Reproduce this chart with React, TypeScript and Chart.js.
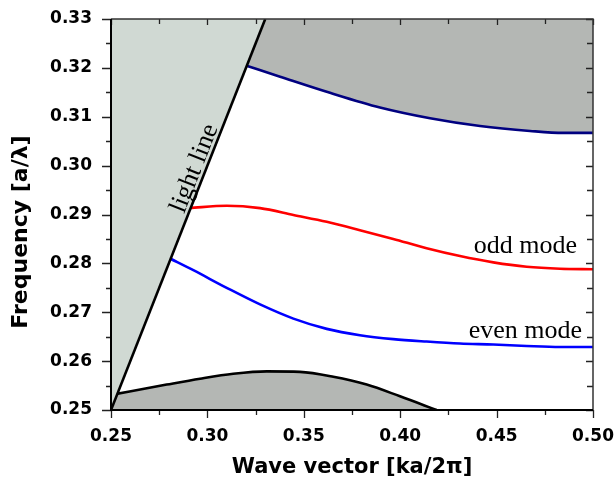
import React, { useEffect, useRef } from 'react';
import { Chart, registerables } from 'chart.js';

Chart.register(...registerables);

// Axis ranges and tick labels
const xTickLabels = ['0.25', '0.30', '0.35', '0.40', '0.45', '0.50'];
const yTickLabels = ['0.25', '0.26', '0.27', '0.28', '0.29', '0.30', '0.31', '0.32', '0.33'];
const xTitle = 'Wave vector [ka/2\u03c0]';
const yTitle = 'Frequency [a/\u03bb]';

// Light line (omega = k)
const lightK = [0.25, 0.33];
const lightF = [0.25, 0.33];

// Upper band edge (navy)
const upperK = [0.3207, 0.3377, 0.3636, 0.3895, 0.4155, 0.4414, 0.4673, 0.4846, 0.5];
const upperF = [0.3204, 0.3182, 0.3149, 0.3119, 0.3097, 0.3081, 0.3071, 0.3067, 0.3067];

// Odd mode (red)
const oddK = [0.2906, 0.31, 0.3273, 0.3446, 0.3619, 0.3791, 0.3964, 0.4137, 0.431, 0.4483, 0.4656, 0.4829, 0.5];
const oddF = [0.2913, 0.2918, 0.2913, 0.2899, 0.2885, 0.2868, 0.285, 0.2831, 0.2815, 0.2802, 0.2793, 0.2789, 0.2788];

// Even mode (blue)
const evenK = [0.2806, 0.2927, 0.31, 0.3273, 0.3446, 0.3619, 0.3791, 0.3964, 0.4137, 0.431, 0.4483, 0.4656, 0.4829, 0.5];
const evenF = [0.281, 0.2786, 0.275, 0.2716, 0.2687, 0.2666, 0.2653, 0.2645, 0.264, 0.2636, 0.2634, 0.2631, 0.2629, 0.2629];

// Lower band edge (black)
const lowerK = [0.25, 0.2789, 0.2962, 0.3134, 0.3308, 0.348, 0.3653, 0.3826, 0.3999, 0.4189];
const lowerF = [0.2531, 0.2552, 0.2564, 0.2574, 0.2579, 0.2578, 0.2568, 0.2552, 0.2528, 0.25];

// Annotation labels
const lightLabel = 'light line';
const lightLabelAt = 0.2986;
const oddLabel = 'odd mode';
const oddLabelAt = [0.4917, 0.2821];
const evenLabel = 'even mode';
const evenLabelAt = [0.4943, 0.2647];

const pts = (xs: number[], ys: number[]) => xs.map((x, i) => ({ x, y: ys[i] }));

const LIGHT_FILL = '#d0d9d3';
const DARK_FILL = '#b4b7b4';

const framePlugin = {
  id: 'frame',
  afterDatasetsDraw(chart: any) {
    const { ctx, chartArea: a, scales } = chart;
    const xs = scales.x;
    const ys = scales.y;
    ctx.save();

    // ticks (major + minor)
    const xv = xTickLabels.map(Number);
    const yv = yTickLabels.map(Number);
    const drawX = (v: number, major: boolean) => {
      const p = Math.round(xs.getPixelForValue(v)) + 0.5;
      const len = major ? 8 : 5;
      ctx.beginPath();
      ctx.moveTo(p, a.bottom);
      ctx.lineTo(p, a.bottom + len);
      ctx.moveTo(p, a.top);
      ctx.lineTo(p, a.top + (major ? 6 : 5));
      ctx.stroke();
    };
    const drawY = (v: number, major: boolean) => {
      const p = Math.round(ys.getPixelForValue(v)) + 0.5;
      const len = major ? 9 : 5;
      ctx.beginPath();
      ctx.moveTo(a.left, p);
      ctx.lineTo(a.left - len, p);
      ctx.moveTo(a.right, p);
      ctx.lineTo(a.right - (major ? 7 : 6), p);
      ctx.stroke();
    };
    ctx.strokeStyle = '#222';
    ctx.lineWidth = 1.3;
    xv.forEach((v, i) => {
      drawX(v, true);
      if (i < xv.length - 1) drawX((v + xv[i + 1]) / 2, false);
    });
    yv.forEach((v, i) => {
      drawY(v, true);
      if (i < yv.length - 1) drawY((v + yv[i + 1]) / 2, false);
    });

    // frame
    ctx.strokeStyle = '#333';
    ctx.lineWidth = 1.5;
    ctx.beginPath();
    ctx.moveTo(a.left, a.top);
    ctx.lineTo(a.right, a.top);
    ctx.lineTo(a.right, a.bottom);
    ctx.stroke();
    ctx.strokeStyle = '#000';
    ctx.lineWidth = 2;
    ctx.beginPath();
    ctx.moveTo(a.left, a.top);
    ctx.lineTo(a.left, a.bottom);
    ctx.lineTo(a.right, a.bottom);
    ctx.stroke();

    // annotation texts
    ctx.fillStyle = '#000';
    ctx.font = "26px 'Liberation Serif', 'Times New Roman', serif";
    ctx.textBaseline = 'alphabetic';
    ctx.textAlign = 'right';
    ctx.fillText(oddLabel, xs.getPixelForValue(oddLabelAt[0]), ys.getPixelForValue(oddLabelAt[1]));
    ctx.fillText(evenLabel, xs.getPixelForValue(evenLabelAt[0]), ys.getPixelForValue(evenLabelAt[1]));

    const p1x = xs.getPixelForValue(lightK[0]);
    const p1y = ys.getPixelForValue(lightF[0]);
    const p2x = xs.getPixelForValue(lightK[1]);
    const p2y = ys.getPixelForValue(lightF[1]);
    const ang = Math.atan2(p2y - p1y, p2x - p1x);
    const cx = xs.getPixelForValue(lightLabelAt);
    const cy = ys.getPixelForValue(lightLabelAt);
    const off = 4;
    const bx = cx + off * Math.sin(ang);
    const by = cy - off * Math.cos(ang);
    ctx.save();
    ctx.translate(bx, by);
    ctx.rotate(ang);
    ctx.textAlign = 'center';
    ctx.fillText(lightLabel, 0, 0);
    ctx.restore();

    // axis titles
    ctx.font = "bold 21px 'DejaVu Sans', sans-serif";
    ctx.textAlign = 'center';
    ctx.fillText(xTitle, (a.left + a.right) / 2, 473);
    ctx.font = "bold 22px 'DejaVu Sans', sans-serif";
    ctx.save();
    ctx.translate(27, 232);
    ctx.rotate(-Math.PI / 2);
    ctx.fillText(yTitle, 0, 0);
    ctx.restore();

    ctx.restore();
  },
};

export default function App() {
  const ref = useRef<HTMLCanvasElement | null>(null);

  useEffect(() => {
    document.body.style.margin = '0';
    const canvas = ref.current;
    if (!canvas) return;
    const lineCommon = {
      showLine: true,
      pointRadius: 0,
      borderWidth: 2.6,
      cubicInterpolationMode: 'monotone' as const,
    };
    const chart = new Chart(canvas, {
      type: 'scatter',
      data: {
        datasets: [
          {
            ...lineCommon,
            label: 'light line',
            data: pts(lightK, lightF),
            borderColor: '#000',
            backgroundColor: LIGHT_FILL,
            fill: 'end',
          },
          {
            ...lineCommon,
            label: 'odd mode',
            data: pts(oddK, oddF),
            borderColor: '#ff0000',
            fill: false,
          },
          {
            ...lineCommon,
            label: 'even mode',
            data: pts(evenK, evenF),
            borderColor: '#0000ff',
            fill: false,
          },
          {
            ...lineCommon,
            label: 'upper band',
            data: pts(upperK, upperF),
            borderColor: '#000080',
            backgroundColor: DARK_FILL,
            fill: 'end',
          },
          {
            ...lineCommon,
            label: 'lower band',
            data: pts(lowerK, lowerF),
            borderColor: '#000',
            backgroundColor: DARK_FILL,
            fill: 'start',
          },
        ],
      },
      options: {
        animation: false,
        responsive: false,
        devicePixelRatio: 1,
        layout: { padding: { left: 0, top: 19, right: 21, bottom: 0 } },
        plugins: { legend: { display: false }, tooltip: { enabled: false } },
        scales: {
          x: {
            type: 'linear',
            min: 0.25,
            max: 0.5,
            grid: { display: false, drawTicks: false },
            border: { display: false },
            ticks: {
              stepSize: 0.05,
              padding: 16,
              color: '#000',
              font: { family: "'DejaVu Sans', sans-serif", size: 17, weight: 'bold' },
              callback: (v: any) => Number(v).toFixed(2),
            },
            afterFit: (s: any) => {
              s.height = 74;
              s.paddingLeft = 0;
              s.paddingRight = 0;
            },
          },
          y: {
            type: 'linear',
            min: 0.25,
            max: 0.33,
            grid: { display: false, drawTicks: false },
            border: { display: false },
            ticks: {
              stepSize: 0.01,
              padding: 19,
              color: '#000',
              font: { family: "'DejaVu Sans', sans-serif", size: 17, weight: 'bold' },
              callback: (v: any) => Number(v).toFixed(2),
            },
            afterFit: (s: any) => {
              s.width = 111;
              s.paddingTop = 0;
              s.paddingBottom = 0;
            },
          },
        },
      },
      plugins: [framePlugin],
    });
    return () => chart.destroy();
  }, []);

  return (
    <div style={{ width: 614, height: 484 }}>
      <canvas ref={ref} width={614} height={484} style={{ display: 'block', width: 614, height: 484 }} />
    </div>
  );
}
